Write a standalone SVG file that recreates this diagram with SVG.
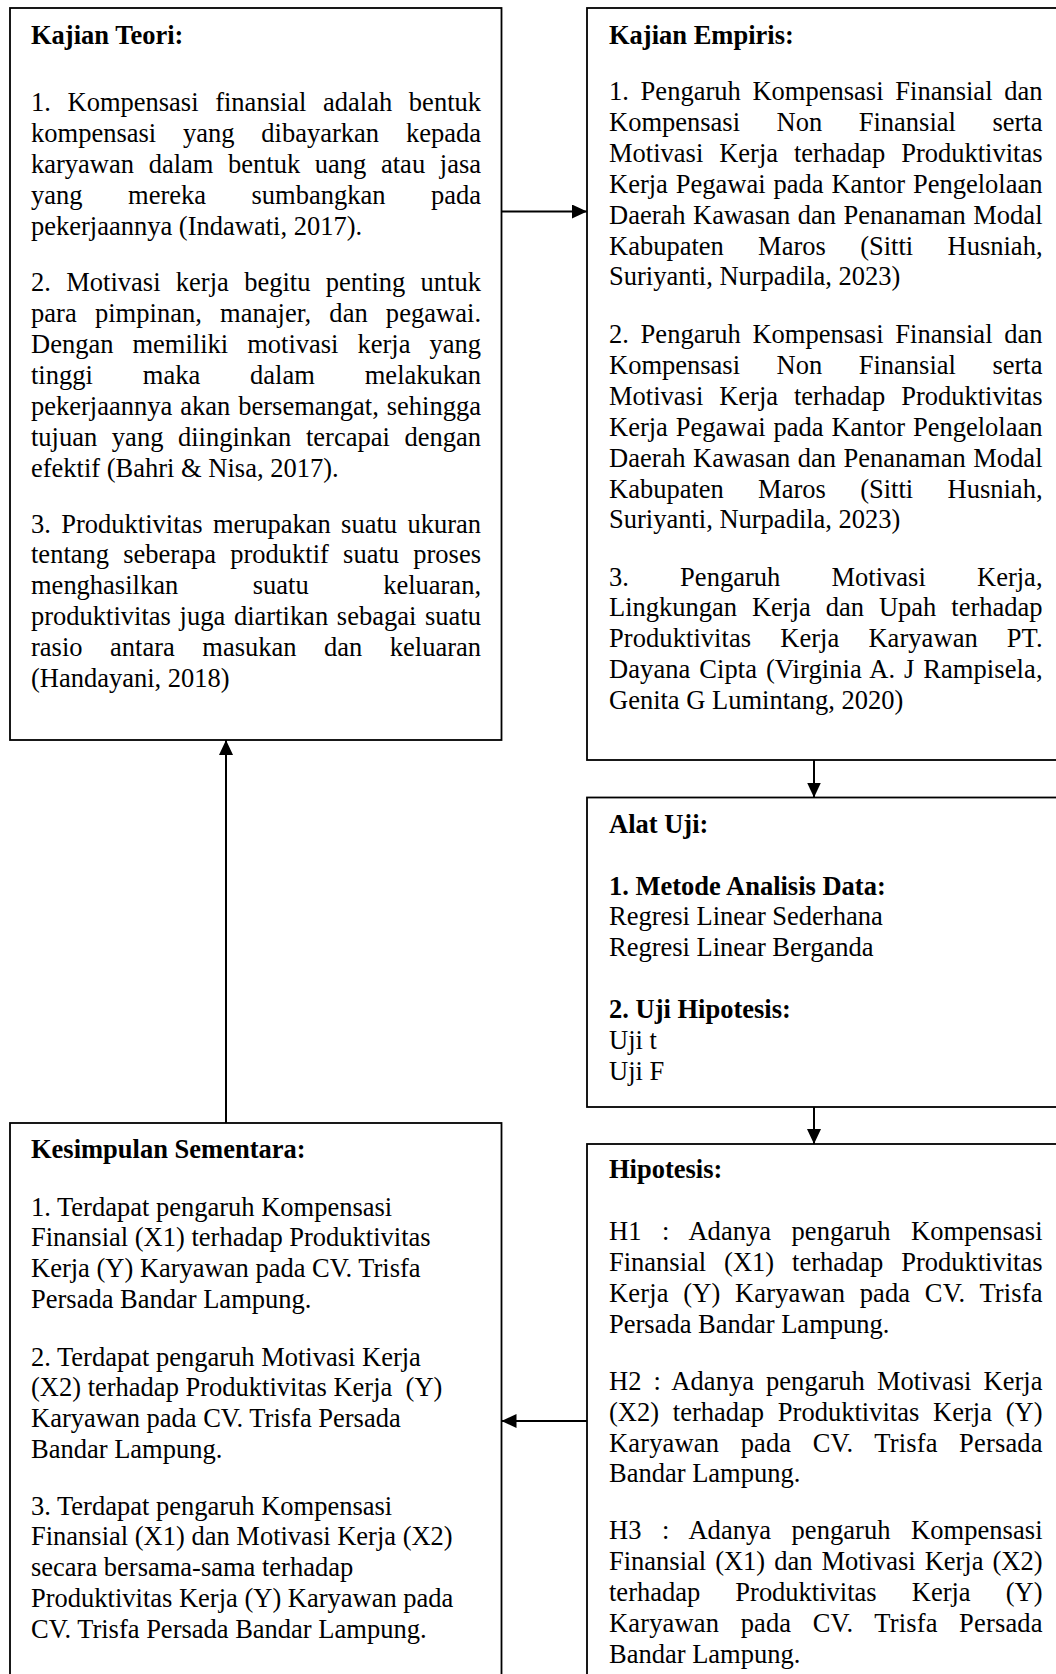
<svg xmlns="http://www.w3.org/2000/svg" width="1056" height="1674" viewBox="0 0 1056 1674">
<style>
.box{fill:#fff;stroke:#000;stroke-width:1.8}
.t{font-family:"Liberation Serif","Times New Roman",serif;font-size:26.5px;fill:#000}
.b{font-weight:bold}
.conn{stroke:#000;stroke-width:2;fill:none}
</style>
<defs>
<marker id="arr" markerUnits="userSpaceOnUse" markerWidth="15" markerHeight="14" refX="15" refY="7" orient="auto">
<path d="M0,0 L15,7 L0,14 z" fill="#000"/>
</marker>
</defs>
<rect width="1056" height="1674" fill="#fff"/>

<g id="connectors">
<line class="conn" x1="501.5" y1="211.5" x2="587" y2="211.5" marker-end="url(#arr)"/>
<line class="conn" x1="814" y1="760" x2="814" y2="797.5" marker-end="url(#arr)"/>
<line class="conn" x1="814" y1="1107" x2="814" y2="1144" marker-end="url(#arr)"/>
<line class="conn" x1="587" y1="1421" x2="501.5" y2="1421" marker-end="url(#arr)"/>
<line class="conn" x1="226" y1="1123" x2="226" y2="740" marker-end="url(#arr)"/>
</g>

<g id="node-kajian-teori">
<rect class="box" x="10" y="8" width="491.5" height="732"/>
<text class="t b" x="31" y="44">Kajian Teori:</text>
<text class="t" x="31" y="111" style="word-spacing:10px" textLength="450" lengthAdjust="spacing">1. Kompensasi finansial adalah bentuk</text>
<text class="t" x="31" y="141.9" style="word-spacing:20.2px" textLength="450" lengthAdjust="spacing">kompensasi yang dibayarkan kepada</text>
<text class="t" x="31" y="172.8" style="word-spacing:8px" textLength="450" lengthAdjust="spacing">karyawan dalam bentuk uang atau jasa</text>
<text class="t" x="31" y="203.7" style="word-spacing:38.9px" textLength="450" lengthAdjust="spacing">yang mereka sumbangkan pada</text>
<text class="t" x="31" y="234.6">pekerjaannya (Indawati, 2017).</text>
<text class="t" x="31" y="291.3" style="word-spacing:8.7px" textLength="450" lengthAdjust="spacing">2. Motivasi kerja begitu penting untuk</text>
<text class="t" x="31" y="322.2" style="word-spacing:11.5px" textLength="450" lengthAdjust="spacing">para pimpinan, manajer, dan pegawai.</text>
<text class="t" x="31" y="353.1" style="word-spacing:12.4px" textLength="450" lengthAdjust="spacing">Dengan memiliki motivasi kerja yang</text>
<text class="t" x="31" y="384" style="word-spacing:43.3px" textLength="450" lengthAdjust="spacing">tinggi maka dalam melakukan</text>
<text class="t" x="31" y="414.9" style="word-spacing:1.3px" textLength="450" lengthAdjust="spacing">pekerjaannya akan bersemangat, sehingga</text>
<text class="t" x="31" y="445.8" style="word-spacing:8px" textLength="450" lengthAdjust="spacing">tujuan yang diinginkan tercapai dengan</text>
<text class="t" x="31" y="476.7">efektif (Bahri &amp; Nisa, 2017).</text>
<text class="t" x="31" y="532.5" style="word-spacing:3.7px" textLength="450" lengthAdjust="spacing">3. Produktivitas merupakan suatu ukuran</text>
<text class="t" x="31" y="563.4" style="word-spacing:7.6px" textLength="450" lengthAdjust="spacing">tentang seberapa produktif suatu proses</text>
<text class="t" x="31" y="594.3" style="word-spacing:67.9px" textLength="450" lengthAdjust="spacing">menghasilkan suatu keluaran,</text>
<text class="t" x="31" y="625.2" style="word-spacing:2.1px" textLength="450" lengthAdjust="spacing">produktivitas juga diartikan sebagai suatu</text>
<text class="t" x="31" y="656.1" style="word-spacing:20.9px" textLength="450" lengthAdjust="spacing">rasio antara masukan dan keluaran</text>
<text class="t" x="31" y="687">(Handayani, 2018)</text>
</g>

<g id="node-kajian-empiris">
<rect class="box" x="587" y="8" width="490" height="752"/>
<text class="t b" x="609" y="44">Kajian Empiris:</text>
<text class="t" x="609" y="100" style="word-spacing:5.1px" textLength="433.5" lengthAdjust="spacing">1. Pengaruh Kompensasi Finansial dan</text>
<text class="t" x="609" y="130.9" style="word-spacing:29.9px" textLength="433.5" lengthAdjust="spacing">Kompensasi Non Finansial serta</text>
<text class="t" x="609" y="161.8" style="word-spacing:9.3px" textLength="433.5" lengthAdjust="spacing">Motivasi Kerja terhadap Produktivitas</text>
<text class="t" x="609" y="192.7" style="word-spacing:1.3px" textLength="433.5" lengthAdjust="spacing">Kerja Pegawai pada Kantor Pengelolaan</text>
<text class="t" x="609" y="223.6" style="word-spacing:0.9px" textLength="433.5" lengthAdjust="spacing">Daerah Kawasan dan Penanaman Modal</text>
<text class="t" x="609" y="254.5" style="word-spacing:27.7px" textLength="433.5" lengthAdjust="spacing">Kabupaten Maros (Sitti Husniah,</text>
<text class="t" x="609" y="285.4">Suriyanti, Nurpadila, 2023)</text>
<text class="t" x="609" y="343" style="word-spacing:5.1px" textLength="433.5" lengthAdjust="spacing">2. Pengaruh Kompensasi Finansial dan</text>
<text class="t" x="609" y="373.9" style="word-spacing:29.9px" textLength="433.5" lengthAdjust="spacing">Kompensasi Non Finansial serta</text>
<text class="t" x="609" y="404.8" style="word-spacing:9.3px" textLength="433.5" lengthAdjust="spacing">Motivasi Kerja terhadap Produktivitas</text>
<text class="t" x="609" y="435.7" style="word-spacing:1.3px" textLength="433.5" lengthAdjust="spacing">Kerja Pegawai pada Kantor Pengelolaan</text>
<text class="t" x="609" y="466.6" style="word-spacing:0.9px" textLength="433.5" lengthAdjust="spacing">Daerah Kawasan dan Penanaman Modal</text>
<text class="t" x="609" y="497.5" style="word-spacing:27.7px" textLength="433.5" lengthAdjust="spacing">Kabupaten Maros (Sitti Husniah,</text>
<text class="t" x="609" y="528.4">Suriyanti, Nurpadila, 2023)</text>
<text class="t" x="609" y="585.5" style="word-spacing:44.6px" textLength="433.5" lengthAdjust="spacing">3. Pengaruh Motivasi Kerja,</text>
<text class="t" x="609" y="616.4" style="word-spacing:8.3px" textLength="433.5" lengthAdjust="spacing">Lingkungan Kerja dan Upah terhadap</text>
<text class="t" x="609" y="647.3" style="word-spacing:22.3px" textLength="433.5" lengthAdjust="spacing">Produktivitas Kerja Karyawan PT.</text>
<text class="t" x="609" y="678.2" style="word-spacing:2.1px" textLength="433.5" lengthAdjust="spacing">Dayana Cipta (Virginia A. J Rampisela,</text>
<text class="t" x="609" y="709.1">Genita G Lumintang, 2020)</text>
</g>

<g id="node-alat-uji">
<rect class="box" x="587" y="797.5" width="490" height="309.5"/>
<text class="t b" x="609" y="833">Alat Uji:</text>
<text class="t b" x="609" y="894.5">1. Metode Analisis Data:</text>
<text class="t" x="609" y="925.4">Regresi Linear Sederhana</text>
<text class="t" x="609" y="956.3">Regresi Linear Berganda</text>
<text class="t b" x="609" y="1018">2. Uji Hipotesis:</text>
<text class="t" x="609" y="1049">Uji t</text>
<text class="t" x="609" y="1080">Uji F</text>
</g>

<g id="node-hipotesis">
<rect class="box" x="587" y="1144" width="490" height="560"/>
<text class="t b" x="609" y="1178">Hipotesis:</text>
<text class="t" x="609" y="1240" style="word-spacing:13.8px" textLength="433.5" lengthAdjust="spacing">H1 : Adanya pengaruh Kompensasi</text>
<text class="t" x="609" y="1270.9" style="word-spacing:11.3px" textLength="433.5" lengthAdjust="spacing">Finansial (X1) terhadap Produktivitas</text>
<text class="t" x="609" y="1301.8" style="word-spacing:7.8px" textLength="433.5" lengthAdjust="spacing">Kerja (Y) Karyawan pada CV. Trisfa</text>
<text class="t" x="609" y="1332.7">Persada Bandar Lampung.</text>
<text class="t" x="609" y="1389.7" style="word-spacing:5.3px" textLength="433.5" lengthAdjust="spacing">H2 : Adanya pengaruh Motivasi Kerja</text>
<text class="t" x="609" y="1420.6" style="word-spacing:7.2px" textLength="433.5" lengthAdjust="spacing">(X2) terhadap Produktivitas Kerja (Y)</text>
<text class="t" x="609" y="1451.5" style="word-spacing:14.7px" textLength="433.5" lengthAdjust="spacing">Karyawan pada CV. Trisfa Persada</text>
<text class="t" x="609" y="1482.4">Bandar Lampung.</text>
<text class="t" x="609" y="1539.4" style="word-spacing:13.8px" textLength="433.5" lengthAdjust="spacing">H3 : Adanya pengaruh Kompensasi</text>
<text class="t" x="609" y="1570.3" style="word-spacing:2.4px" textLength="433.5" lengthAdjust="spacing">Finansial (X1) dan Motivasi Kerja (X2)</text>
<text class="t" x="609" y="1601.2" style="word-spacing:28.5px" textLength="433.5" lengthAdjust="spacing">terhadap Produktivitas Kerja (Y)</text>
<text class="t" x="609" y="1632.1" style="word-spacing:14.7px" textLength="433.5" lengthAdjust="spacing">Karyawan pada CV. Trisfa Persada</text>
<text class="t" x="609" y="1663">Bandar Lampung.</text>
</g>

<g id="node-kesimpulan">
<rect class="box" x="10" y="1123" width="491.5" height="580"/>
<text class="t b" x="31" y="1158">Kesimpulan Sementara:</text>
<text class="t" x="31" y="1215.5">1. Terdapat pengaruh Kompensasi</text>
<text class="t" x="31" y="1246.4">Finansial (X1) terhadap Produktivitas</text>
<text class="t" x="31" y="1277.3">Kerja (Y) Karyawan pada CV. Trisfa</text>
<text class="t" x="31" y="1308.2">Persada Bandar Lampung.</text>
<text class="t" x="31" y="1365.5">2. Terdapat pengaruh Motivasi Kerja</text>
<text class="t" x="31" y="1396.4" xml:space="preserve">(X2) terhadap Produktivitas Kerja  (Y)</text>
<text class="t" x="31" y="1427.3">Karyawan pada CV. Trisfa Persada</text>
<text class="t" x="31" y="1458.2">Bandar Lampung.</text>
<text class="t" x="31" y="1514.5">3. Terdapat pengaruh Kompensasi</text>
<text class="t" x="31" y="1545.4">Finansial (X1) dan Motivasi Kerja (X2)</text>
<text class="t" x="31" y="1576.3">secara bersama-sama terhadap</text>
<text class="t" x="31" y="1607.2">Produktivitas Kerja (Y) Karyawan pada</text>
<text class="t" x="31" y="1638.1">CV. Trisfa Persada Bandar Lampung.</text>
</g>
</svg>
